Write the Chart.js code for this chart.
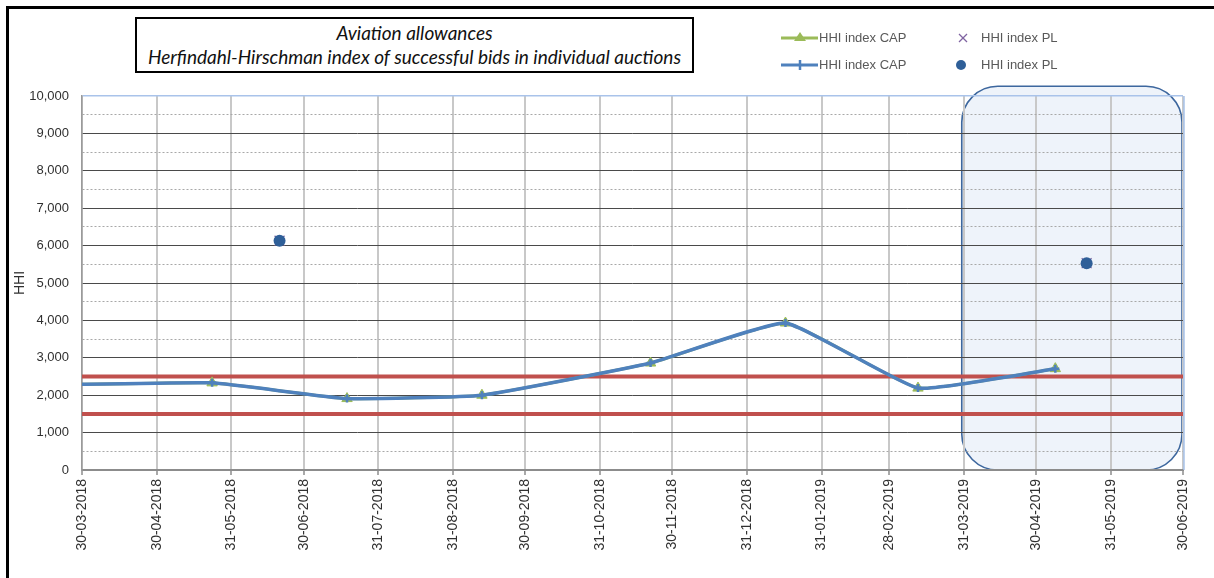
<!DOCTYPE html>
<html><head><meta charset="utf-8">
<script src="https://cdn.jsdelivr.net/npm/chart.js@4.4.1/dist/chart.umd.min.js"></script>
<style>
html,body{margin:0;padding:0;background:#fff;}
#wrap{position:relative;width:1214px;height:578px;overflow:hidden;font-family:"Liberation Sans",Arial,sans-serif;background:#fff;}
#frame{position:absolute;left:6px;top:6px;width:1400px;height:800px;border-top:3px solid #000;border-left:3px solid #000;}
canvas{position:absolute;left:0;top:0;}
#title{position:absolute;left:135px;top:17px;width:559px;height:56px;border:2px solid #000;box-sizing:border-box;text-align:center;font-family:Lato,"Liberation Sans",sans-serif;font-style:italic;font-size:19px;line-height:24px;color:#111;padding-top:2px;background:#fff;z-index:2;white-space:nowrap}
.lg{position:absolute;font-size:13px;color:#595959;white-space:nowrap;line-height:16px;z-index:2}
.lg svg{position:absolute;}
</style></head>
<body>
<div id="wrap">
<div id="frame"></div>
<canvas id="c" width="1214" height="578"></canvas>
<div id="title">Aviation allowances<br>Herfindahl-Hirschman index of successful bids in individual auctions</div>
<div class="lg" style="left:780px;top:30px;width:140px;height:16px;">
  <svg width="40" height="16" style="left:0;top:0"><line x1="1" y1="8" x2="38" y2="8" stroke="#9bbb59" stroke-width="3"/><polygon points="20,2 26,11 14,11" fill="#9bbb59"/></svg>
  <span style="position:absolute;left:39px;top:0">HHI index CAP</span>
</div>
<div class="lg" style="left:780px;top:57px;width:140px;height:16px;">
  <svg width="40" height="16" style="left:0;top:0"><line x1="1" y1="8" x2="38" y2="8" stroke="#4f81bd" stroke-width="3"/><line x1="20" y1="3" x2="20" y2="13" stroke="#4f81bd" stroke-width="2.5"/></svg>
  <span style="position:absolute;left:39px;top:0">HHI index CAP</span>
</div>
<div class="lg" style="left:955px;top:30px;width:140px;height:16px;">
  <svg width="16" height="16" style="left:0;top:0"><line x1="4" y1="4" x2="12" y2="12" stroke="#8064a2" stroke-width="1.3"/><line x1="12" y1="4" x2="4" y2="12" stroke="#8064a2" stroke-width="1.3"/></svg>
  <span style="position:absolute;left:26px;top:0">HHI index PL</span>
</div>
<div class="lg" style="left:955px;top:57px;width:140px;height:16px;">
  <svg width="16" height="16" style="left:0;top:0"><circle cx="6" cy="8" r="5" fill="#2f5f98"/></svg>
  <span style="position:absolute;left:26px;top:0">HHI index PL</span>
</div>
</div>
<script>
// ---- data ----
const tickLabels = ['30-03-2018','30-04-2018','31-05-2018','30-06-2018','31-07-2018','31-08-2018','30-09-2018','31-10-2018','30-11-2018','31-12-2018','31-01-2019','28-02-2019','31-03-2019','30-04-2019','31-05-2019','30-06-2019'];
const capDates  = ['20-03-2018','23-05-2018','18-07-2018','12-09-2018','21-11-2018','16-01-2019','12-03-2019','08-05-2019'];
const capValues = [2280, 2330, 1910, 2000, 2860, 3930, 2190, 2710];
const plDates   = ['20-06-2018','21-05-2019'];
const plValues  = [6130, 5530];
const thresholdValues = [2500, 1500];
const highlightDates = ['31-03-2019','30-06-2019'];
const highlightTop = 10260;

// ---- helpers ----
function dayOf(s){const [d,m,y]=s.split('-').map(Number);return (Date.UTC(y,m-1,d)-Date.UTC(2018,2,30))/86400000;}
const tickDays = tickLabels.map(dayOf);
const xMin = tickDays[0], xMax = tickDays[tickDays.length-1];
const capPts = capDates.map((d,i)=>({x:dayOf(d),y:capValues[i]}));
const plPts = plDates.map((d,i)=>({x:dayOf(d),y:plValues[i]}));

const highlightPlugin = {
  id:'highlight',
  beforeDraw(chart){
    const {ctx,scales:{x,y}} = chart;
    const x1 = x.getPixelForValue(dayOf(highlightDates[0]))-2;
    const x2 = x.getPixelForValue(dayOf(highlightDates[1]))-1;
    const y1 = y.getPixelForValue(highlightTop);
    const y2 = y.getPixelForValue(0);
    ctx.save();
    ctx.beginPath();
    ctx.roundRect(x1,y1,x2-x1,y2-y1,36);
    ctx.fillStyle='#eef3fa';
    ctx.fill();
    ctx.lineWidth=1.6;
    ctx.strokeStyle='#3d679e';
    ctx.stroke();
    ctx.restore();
  },
  afterDraw(chart){
    const {ctx,chartArea:a} = chart;
    ctx.save();
    ctx.strokeStyle='#a9c3ea';
    ctx.lineWidth=1.5;
    ctx.beginPath();
    ctx.moveTo(a.right+1,a.top);ctx.lineTo(a.right+1,a.bottom);
    ctx.stroke();
    ctx.restore();
  }
};

const tickFont = {family:'"Liberation Sans", Arial, sans-serif', size:13};
const lineTension = 0.12;

new Chart(document.getElementById('c'),{
  type:'line',
  data:{datasets:[
    {label:'HHI index PL', data:plPts, showLine:false, pointStyle:'circle', pointRadius:6, pointBackgroundColor:'#2f5f98', pointBorderColor:'#2f5f98', borderWidth:0},
    {label:'HHI index PL', data:plPts, showLine:false, pointStyle:'crossRot', pointRadius:7, pointBorderColor:'#8064a2', pointBorderWidth:1.2},
    {label:'HHI index CAP', data:capPts, borderColor:'#4f81bd', borderWidth:3.5, tension:lineTension, pointStyle:'cross', pointRadius:4, pointBorderWidth:2.5, pointBorderColor:'#4f81bd', pointBackgroundColor:'#4f81bd'},
    {label:'HHI index CAP', data:capPts, borderColor:'#9bbb59', borderWidth:3, tension:lineTension, pointStyle:'triangle', pointRadius:6, pointBorderWidth:1, pointBorderColor:'#9bbb59', pointBackgroundColor:'#9bbb59'},
    {label:'threshold', data:[{x:xMin,y:thresholdValues[0]},{x:xMax,y:thresholdValues[0]}], borderColor:'#c0504d', borderWidth:4, pointRadius:0},
    {label:'threshold', data:[{x:xMin,y:thresholdValues[1]},{x:xMax,y:thresholdValues[1]}], borderColor:'#c0504d', borderWidth:4, pointRadius:0}
  ]},
  options:{
    responsive:false, animation:false, devicePixelRatio:1,
    layout:{padding:{top:96,right:31,left:8,bottom:0}},
    plugins:{legend:{display:false},tooltip:{enabled:false},title:{display:false}},
    elements:{point:{hoverRadius:0}},
    scales:{
      x:{type:'linear', min:xMin, max:xMax,
        afterBuildTicks(s){s.ticks = tickDays.map(v=>({value:v}));},
        afterFit(s){s.height = 108;},
        ticks:{autoSkip:false, minRotation:90, maxRotation:90, padding:4, color:'#303030', font:{...tickFont,size:14},
          callback:(v,i)=>tickLabels[i]},
        grid:{color:'#c8c8c8', lineWidth:2, tickLength:5, tickColor:'#8c8c8c', tickWidth:1.5},
        border:{color:'#8c8c8c', width:2}
      },
      y:{min:0, max:10000,
        afterFit(s){s.width = 74;},
        ticks:{stepSize:500, padding:13, color:'#303030', font:tickFont,
          callback:v=> v%1000===0 ? v.toLocaleString('en-US') : ''},
        grid:{drawTicks:false,
          color:c=> c.tick && c.tick.value===10000 ? '#a9c3ea' : (c.tick && c.tick.value%1000===0 ? '#4a4a4a' : '#a8a8a8'),
          lineWidth:c=> c.tick && c.tick.value===10000 ? 1.5 : 1},
        border:{color:'#9a9a9a', width:1.5,
          dash:c=> c.tick && c.tick.value%1000!==0 ? [2,2] : []},
        title:{display:true, text:'HHI', color:'#303030', font:{...tickFont,size:14}, padding:{top:4,bottom:0}}
      }
    }
  },
  plugins:[highlightPlugin]
});
</script>
</body></html>
